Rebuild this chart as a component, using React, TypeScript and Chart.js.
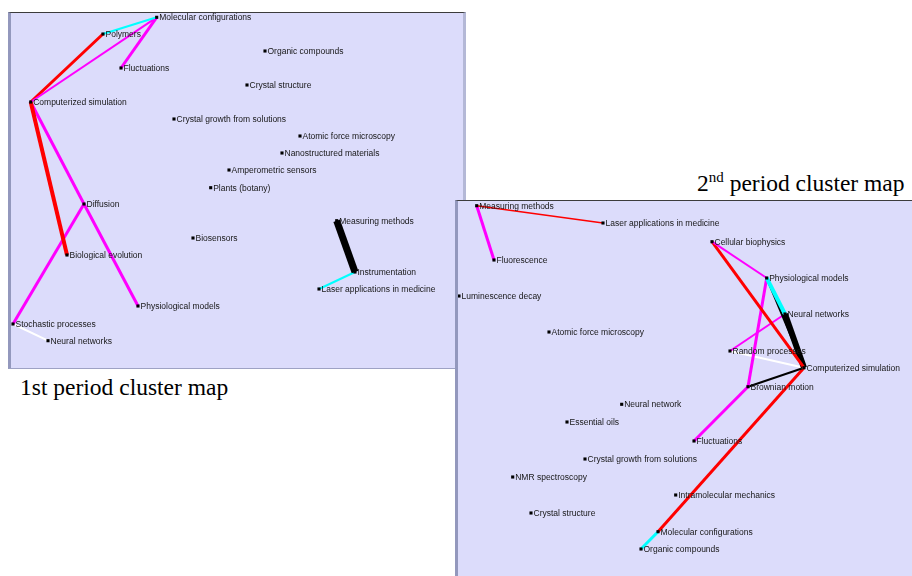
import React, { useEffect, useRef } from "react";
import { Chart, registerables } from "chart.js";

Chart.register(...registerables);

// ---------- 1st period map (page-pixel coordinates) ----------
const leftNames = [
  "Molecular configurations", "Polymers", "Fluctuations", "Computerized simulation",
  "Organic compounds", "Crystal structure", "Crystal growth from solutions",
  "Atomic force microscopy", "Nanostructured materials", "Amperometric sensors",
  "Plants (botany)", "Diffusion", "Biosensors", "Biological evolution",
  "Measuring methods", "Instrumentation", "Laser applications in medicine",
  "Physiological models", "Stochastic processes", "Neural networks",
];
const leftX = [156.7, 103, 121, 30.7, 265, 247, 174, 300, 282, 229, 210.7, 84, 193, 67, 336.7, 355, 319, 138, 13, 48];
const leftY = [17.3, 34, 68, 102, 51, 85, 119, 136, 153, 170, 187.7, 204, 238, 255, 220.7, 272, 289, 306, 324, 340.7];

const leftEdgeFrom = [
  "Molecular configurations", "Molecular configurations", "Molecular configurations",
  "Polymers", "Computerized simulation", "Computerized simulation", "Diffusion",
  "Diffusion", "Stochastic processes", "Measuring methods", "Instrumentation",
];
const leftEdgeTo = [
  "Polymers", "Computerized simulation", "Fluctuations",
  "Computerized simulation", "Biological evolution", "Diffusion", "Physiological models",
  "Stochastic processes", "Neural networks", "Instrumentation", "Laser applications in medicine",
];
// link class: 5 strongest ... 1 weakest
const leftEdgeClass = [2, 3, 3, 4, 4, 3, 3, 3, 1, 5, 2];
const leftEdgeWeight = [2, 2, 3, 3, 4, 3, 3, 3, 2, 7, 2];

// ---------- 2nd period map ----------
const rightNames = [
  "Measuring methods", "Laser applications in medicine", "Fluorescence", "Cellular biophysics",
  "Physiological models", "Luminescence decay", "Neural networks", "Atomic force microscopy",
  "Random processes", "Computerized simulation", "Brownian motion", "Neural network",
  "Essential oils", "Fluctuations", "Crystal growth from solutions", "NMR spectroscopy",
  "Intramolecular mechanics", "Crystal structure", "Molecular configurations", "Organic compounds",
];
const rightX = [476.7, 603, 494, 712, 766.7, 459, 785, 549, 730, 804, 748, 621.7, 567, 694, 585, 512.7, 675.7, 531, 658, 641];
const rightY = [205.7, 223, 260, 241.7, 278, 296, 314, 332, 351, 367.7, 386.7, 404.3, 422, 441, 459, 477, 495, 513, 531.7, 549];

const rightEdgeFrom = [
  "Measuring methods", "Measuring methods", "Cellular biophysics", "Cellular biophysics",
  "Physiological models", "Physiological models", "Neural networks", "Physiological models",
  "Neural networks", "Random processes", "Computerized simulation", "Brownian motion",
  "Computerized simulation", "Molecular configurations",
];
const rightEdgeTo = [
  "Laser applications in medicine", "Fluorescence", "Physiological models", "Computerized simulation",
  "Neural networks", "Computerized simulation", "Computerized simulation", "Brownian motion",
  "Random processes", "Computerized simulation", "Brownian motion", "Fluctuations",
  "Molecular configurations", "Organic compounds",
];
const rightEdgeClass = [4, 3, 3, 4, 2, 5, 5, 3, 3, 1, 5, 3, 4, 2];
const rightEdgeWeight = [1.5, 3, 2, 3, 4, 2, 6, 3, 2, 2, 2, 3, 3, 3];

const CLASS_COLORS: Record<number, string> = {
  5: "#000000",
  4: "#ff0000",
  3: "#ff00ff",
  2: "#00ffff",
  1: "#ffffff",
};

const BG = "#dcdcfb";

type MapProps = {
  names: string[];
  xs: number[];
  ys: number[];
  from: string[];
  to: string[];
  cls: number[];
  weight: number[];
  xMin: number;
  xMax: number;
  yMin: number;
  yMax: number;
  width: number;
  height: number;
};

const bgPlugin = {
  id: "panelBg",
  beforeDraw(chart: any) {
    const { ctx } = chart;
    ctx.save();
    ctx.fillStyle = BG;
    ctx.fillRect(0, 0, chart.width, chart.height);
    ctx.restore();
  },
};

const labelPlugin = {
  id: "nodeLabels",
  afterDatasetsDraw(chart: any) {
    const ctx = chart.ctx;
    const ds = chart.data.datasets[0];
    const xs = chart.scales.x;
    const ys = chart.scales.y;
    ctx.save();
    ctx.font = '8.5px "Liberation Sans", Arial, sans-serif';
    ctx.fillStyle = "#161616";
    ctx.textBaseline = "middle";
    ctx.textAlign = "left";
    (ds.data as any[]).forEach((p) => {
      const px = xs.getPixelForValue(p.x);
      const py = ys.getPixelForValue(p.y);
      ctx.fillText(p.label, px + 2.5, py + 0.5);
    });
    ctx.restore();
  },
};

function ClusterMap(props: MapProps) {
  const ref = useRef<HTMLCanvasElement | null>(null);
  useEffect(() => {
    if (!ref.current) return;
    const idx = (n: string) => props.names.indexOf(n);
    const edgeSets = props.from.map((f, i) => {
      const a = idx(f);
      const b = idx(props.to[i]);
      return {
        type: "line" as const,
        data: [
          { x: props.xs[a], y: props.ys[a] },
          { x: props.xs[b], y: props.ys[b] },
        ],
        borderColor: CLASS_COLORS[props.cls[i]],
        borderWidth: props.weight[i],
        pointRadius: 0,
        showLine: true,
        fill: false,
        tension: 0,
        order: 2,
        clip: false as any,
      };
    });
    const nodeSet = {
      type: "scatter" as const,
      data: props.names.map((n, i) => ({ x: props.xs[i], y: props.ys[i], label: n })),
      pointStyle: "rect",
      pointRadius: 2.2,
      pointBackgroundColor: "#000000",
      pointBorderWidth: 0,
      backgroundColor: "#000000",
      borderColor: "#000000",
      order: 1,
      clip: false as any,
    };
    const chart = new Chart(ref.current, {
      type: "scatter",
      data: { datasets: [nodeSet as any, ...edgeSets] },
      options: {
        animation: false,
        responsive: false,
        layout: { padding: 0, autoPadding: false },
        events: [],
        scales: {
          x: { type: "linear", min: props.xMin, max: props.xMax, display: false },
          y: { type: "linear", min: props.yMin, max: props.yMax, reverse: true, display: false },
        },
        plugins: { legend: { display: false }, tooltip: { enabled: false }, title: { display: false } },
      },
      plugins: [bgPlugin, labelPlugin],
    });
    return () => chart.destroy();
  }, []);
  return (
    <canvas
      ref={ref}
      width={props.width}
      height={props.height}
      style={{ display: "block", width: props.width, height: props.height }}
    />
  );
}

const titleStyle: React.CSSProperties = {
  position: "absolute",
  fontFamily: '"Liberation Serif", "Times New Roman", serif',
  fontSize: 23.5,
  lineHeight: "27px",
  color: "#000",
  whiteSpace: "nowrap",
};

export default function App() {
  return (
    <div
      style={{
        position: "absolute",
        left: 0,
        top: 0,
        width: 912,
        height: 576,
        overflow: "hidden",
        background: "#ffffff",
      }}
    >
      {/* left panel: content x 11..463, y 13..368 */}
      <div
        style={{
          position: "absolute",
          left: 8,
          top: 12,
          width: 452,
          height: 355,
          borderLeft: "3px solid #9398bd",
          borderTop: "1px solid #3c3c3c",
          borderRight: "3px solid #b4b8d6",
          borderBottom: "1px solid #9ea2c4",
          background: BG,
        }}
      >
        <ClusterMap
          names={leftNames}
          xs={leftX}
          ys={leftY}
          from={leftEdgeFrom}
          to={leftEdgeTo}
          cls={leftEdgeClass}
          weight={leftEdgeWeight}
          xMin={11}
          xMax={463}
          yMin={13}
          yMax={368}
          width={452}
          height={355}
        />
      </div>
      <div style={{ ...titleStyle, left: 20, top: 374 }}>1st period cluster map</div>
      <div style={{ ...titleStyle, left: 697, top: 170 }}>
        2<sup style={{ fontSize: 15, lineHeight: 0, verticalAlign: "9px" }}>nd</sup> period cluster map
      </div>
      {/* right panel: content x 458..912, y 201..576 */}
      <div
        style={{
          position: "absolute",
          left: 455,
          top: 200,
          width: 454,
          height: 376,
          borderLeft: "3px solid #9398bd",
          borderTop: "1px solid #3c3c3c",
          background: BG,
        }}
      >
        <ClusterMap
          names={rightNames}
          xs={rightX}
          ys={rightY}
          from={rightEdgeFrom}
          to={rightEdgeTo}
          cls={rightEdgeClass}
          weight={rightEdgeWeight}
          xMin={458}
          xMax={912}
          yMin={201}
          yMax={577}
          width={454}
          height={376}
        />
      </div>
    </div>
  );
}
